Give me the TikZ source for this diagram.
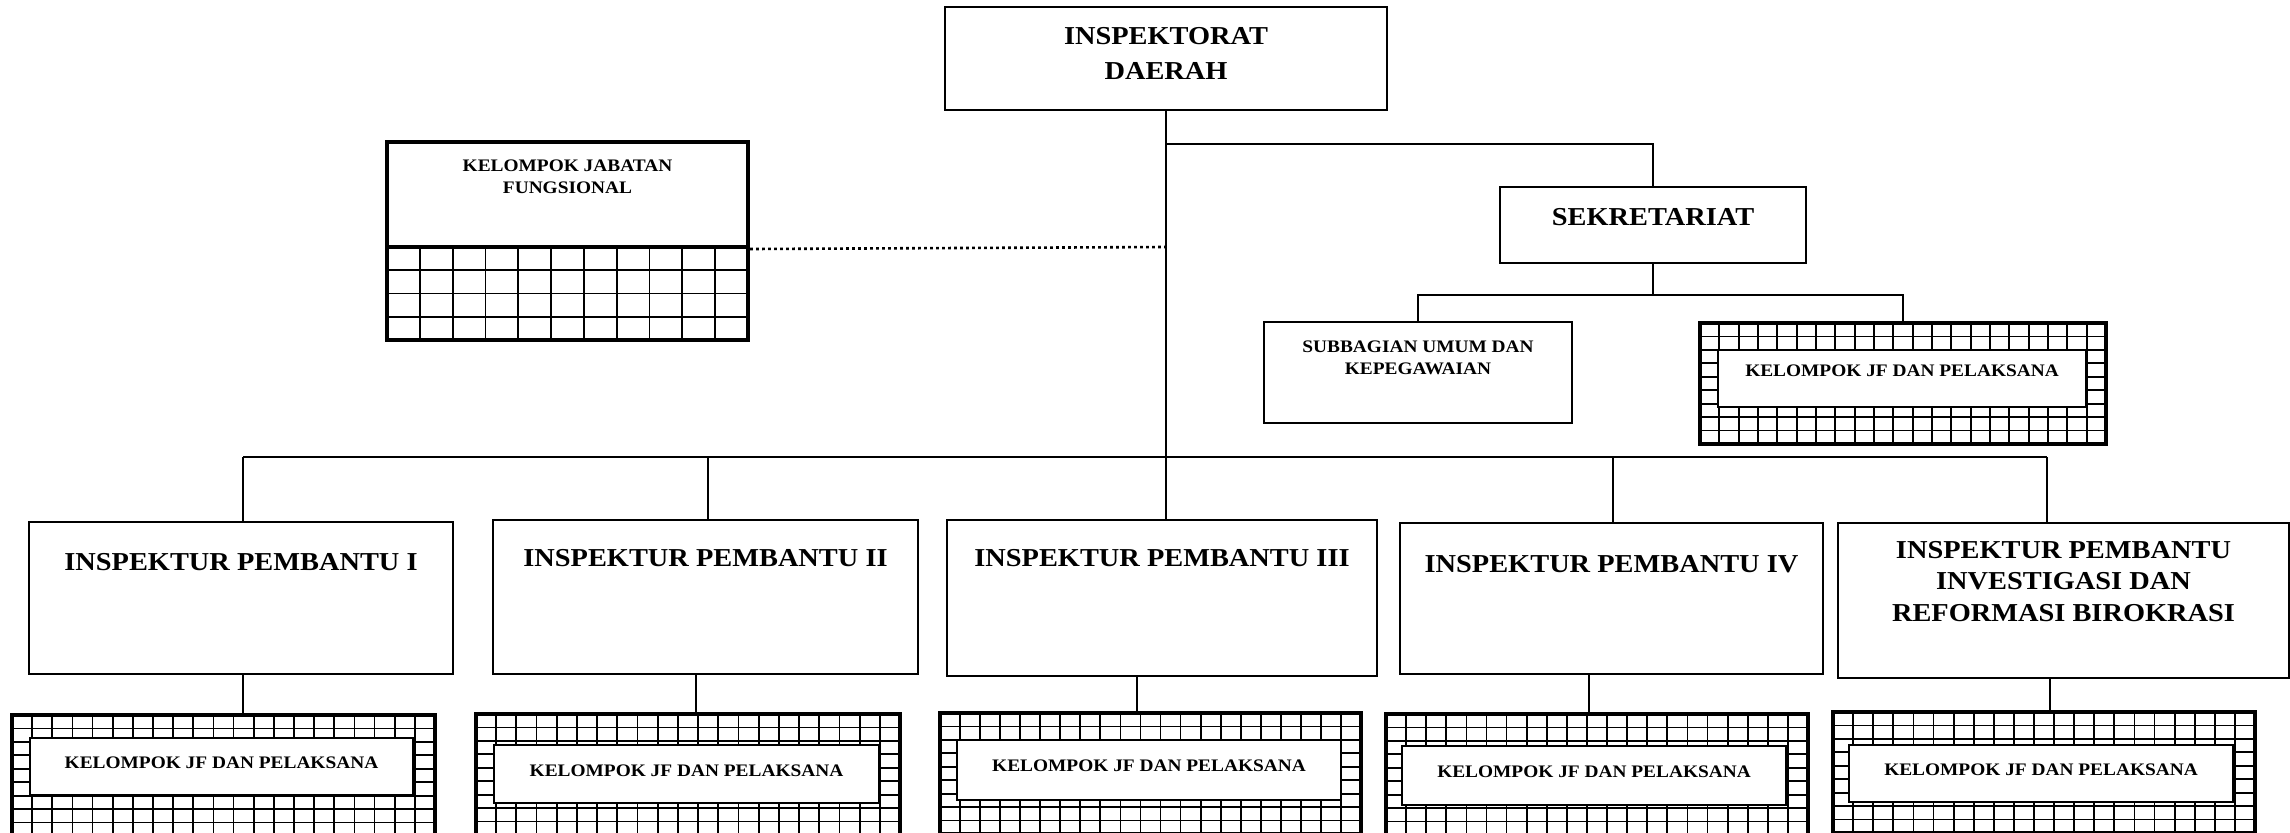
\documentclass[tikz,border=0pt]{standalone}
\usepackage{fontspec}
\setmainfont{Liberation Serif}[FakeStretch=1.1]
\usetikzlibrary{positioning,fit}

\tikzset{
  box/.style={draw, line width=1pt, inner sep=0pt},
  jfouter/.style={draw, line width=2pt, inner sep=0pt},
  jfinner/.style={draw, line width=1pt, fill=white, inner sep=0pt},
  gridline/.style={line width=0.9pt},
  conn/.style={line width=0.9pt},
  dotline/.style={line width=1.3pt, dash pattern=on 1.4pt off 1.6pt},
  bigtxt/.style={font=\fontsize{12.9}{15.7}\selectfont\bfseries, align=center, inner sep=0pt},
  smalltxt/.style={font=\fontsize{8.8}{11.3}\selectfont\bfseries, align=center, inner sep=0pt}
}

% grid inside a rectangle: x0 y0 x1 y1 columns rows
\newcommand{\hatch}[6]{%
  \foreach \i in {1,...,#5}{\draw[gridline] ({#1+(#3-#1)*\i/#5},#2) -- ({#1+(#3-#1)*\i/#5},#4);}
  \foreach \j in {1,...,#6}{\draw[gridline] (#1,{#2+(#4-#2)*\j/#6}) -- (#3,{#2+(#4-#2)*\j/#6});}
}

\begin{document}
\begin{tikzpicture}[x=0.5pt, y=-0.5pt]
  \useasboundingbox (0,0) rectangle (2290,832);
  \clip (0,0) rectangle (2290,832);

  % head
  \node[box, fit={(945,7) (1387,110)}] (insp) {};
  \node[bigtxt, below=10.6pt of insp.north, font=\fontsize{12.9}{17.5}\selectfont\bfseries] {INSPEKTORAT\\DAERAH};

  % kelompok jabatan fungsional
  \hatch{387}{247}{748}{340}{11}{4}
  \node[jfouter, fit={(387,142) (748,247)}] (jab) {};
  \node[jfouter, fit={(387,247) (748,340)}] (jabgrid) {};
  \node[smalltxt, below=9.5pt of jab.north] {KELOMPOK JABATAN\\FUNGSIONAL};

  % sekretariat
  \node[box, fit={(1500,187) (1806,263)}] (sek) {};
  \node[bigtxt, below=11pt of sek.north] {SEKRETARIAT};
  \node[box, fit={(1264,322) (1572,423)}] (sub) {};
  \node[smalltxt, below=9.5pt of sub.north, font=\fontsize{8.8}{11}\selectfont\bfseries] {SUBBAGIAN UMUM DAN\\KEPEGAWAIAN};
  \hatch{1700}{323}{2106}{444}{21}{9}
  \node[jfouter, fit={(1700,323) (2106,444)}] (jfs) {};
  \node[jfinner, fit={(1718,350) (2086,407)}] (jfsi) {};
  \node[smalltxt, below=7.5pt of jfsi.north] {KELOMPOK JF DAN PELAKSANA};

  % inspektur pembantu
  \node[box, fit={(29,522) (453,674)}] (ip1) {};
  \node[bigtxt, below=16.2pt of ip1.north] {INSPEKTUR PEMBANTU I};
  \node[box, fit={(493,520) (918,674)}] (ip2) {};
  \node[bigtxt, below=15pt of ip2.north] {INSPEKTUR PEMBANTU II};
  \node[box, fit={(947,520) (1377,676)}] (ip3) {};
  \node[bigtxt, below=15pt of ip3.north] {INSPEKTUR PEMBANTU III};
  \node[box, fit={(1400,523) (1823,674)}] (ip4) {};
  \node[bigtxt, below=16.5pt of ip4.north] {INSPEKTUR PEMBANTU IV};
  \node[box, fit={(1838,523) (2289,678)}] (ip5) {};
  \node[bigtxt, below=9.5pt of ip5.north] {INSPEKTUR PEMBANTU\\INVESTIGASI DAN\\REFORMASI BIROKRASI};

  % kelompok jf dan pelaksana
  \hatch{12}{715}{435}{836}{21}{9}
  \node[jfouter, fit={(12,715) (435,836)}] (jf1) {};
  \node[jfinner, fit={(30,738) (413,795)}] (jfi1) {};
  \node[smalltxt, below=9.5pt of jfi1.north] {KELOMPOK JF DAN PELAKSANA};
  \hatch{476}{714}{900}{835}{21}{9}
  \node[jfouter, fit={(476,714) (900,835)}] (jf2) {};
  \node[jfinner, fit={(494,745) (879,803)}] (jfi2) {};
  \node[smalltxt, below=10pt of jfi2.north] {KELOMPOK JF DAN PELAKSANA};
  \hatch{940}{713}{1361}{834}{21}{9}
  \node[jfouter, fit={(940,713) (1361,834)}] (jf3) {};
  \node[jfinner, fit={(957,740) (1341,800)}] (jfi3) {};
  \node[smalltxt, below=10pt of jfi3.north] {KELOMPOK JF DAN PELAKSANA};
  \hatch{1386}{714}{1808}{835}{21}{9}
  \node[jfouter, fit={(1386,714) (1808,835)}] (jf4) {};
  \node[jfinner, fit={(1402,746) (1786,805)}] (jfi4) {};
  \node[smalltxt, below=10pt of jfi4.north] {KELOMPOK JF DAN PELAKSANA};
  \hatch{1833}{712}{2255}{833}{21}{9}
  \node[jfouter, fit={(1833,712) (2255,833)}] (jf5) {};
  \node[jfinner, fit={(1849,745) (2233,802)}] (jfi5) {};
  \node[smalltxt, below=9.5pt of jfi5.north] {KELOMPOK JF DAN PELAKSANA};

  % lines
  \coordinate (split) at (1166,144);
  \coordinate (dotend) at (1166,247);
  \coordinate (sekbar) at (1653,295);
  \coordinate (b1) at (243,457);
  \coordinate (b2) at (708,457);
  \coordinate (b3) at (1166,457);
  \coordinate (b4) at (1613,457);
  \coordinate (b5) at (2047,457);
  \coordinate (c1) at (243,0);
  \coordinate (c2) at (696,0);
  \coordinate (c3) at (1137,0);
  \coordinate (c4) at (1589,0);
  \coordinate (c5) at (2050,0);

  \draw[conn] (insp.south) -- (b3);
  \draw[conn] (split) -| (sek.north);
  \draw[conn] (sek.south) -- (sekbar);
  \draw[conn] (sub.north) |- (sekbar) -| (jfs.north);
  \draw[dotline] (jab.south east) -- (dotend);
  \draw[conn] (b1) -- (b5);
  \foreach \n in {1,...,5}{
    \draw[conn] (b\n) -- (b\n |- ip\n.north);
    \draw[conn] (c\n |- ip\n.south) -- (c\n |- jf\n.north);
  }
\end{tikzpicture}
\end{document}
